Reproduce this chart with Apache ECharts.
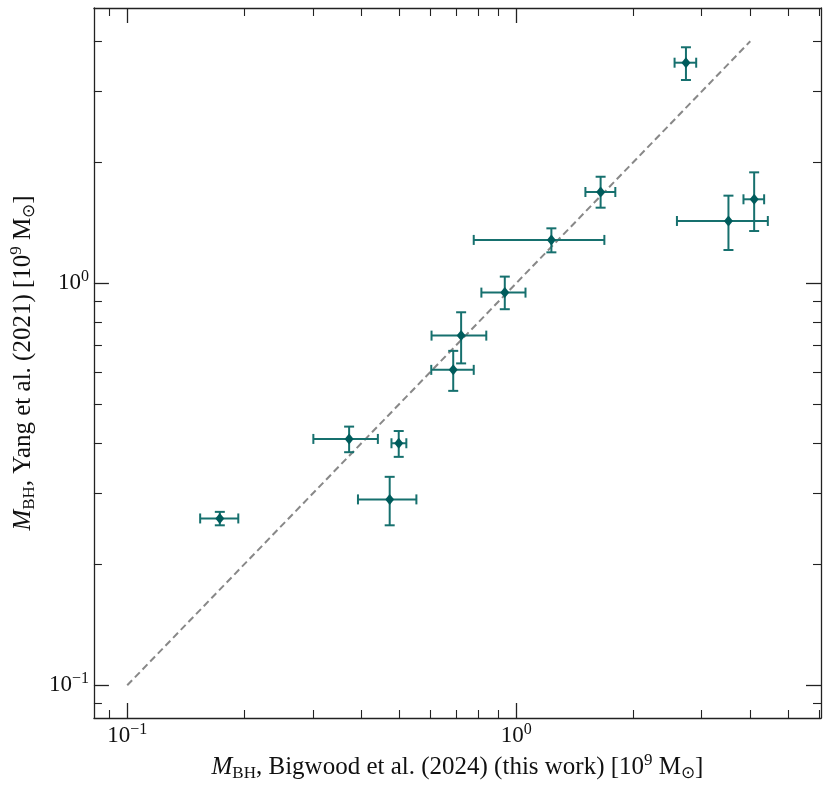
<!DOCTYPE html>
<html>
<head>
    <meta charset="utf-8">
    <title>M_BH comparison</title>
    <script src="https://cdn.jsdelivr.net/npm/echarts@6.0.0/dist/echarts.min.js"></script>
    <style>
        html, body { margin: 0; padding: 0; background: #fff; }
    </style>
</head>
<body>
    <div id="main" style="width: 831px;height:788px;"></div>
    <script type="text/javascript">
        // values, in 10^9 Msun
        var xVal = [0.173, 0.372, 0.499, 0.473, 0.689, 0.722, 0.935, 1.232, 1.649, 2.733, 3.515, 4.093];
        var xLo  = [0.154, 0.301, 0.478, 0.392, 0.605, 0.606, 0.814, 0.778, 1.507, 2.555, 2.591, 3.842];
        var xHi  = [0.193, 0.441, 0.522, 0.554, 0.778, 0.838, 1.057, 1.686, 1.799, 2.904, 4.438, 4.342];
        var yVal = [0.260, 0.410, 0.400, 0.290, 0.609, 0.741, 0.948, 1.282, 1.687, 3.538, 1.429, 1.618];
        var yLo  = [0.250, 0.380, 0.370, 0.250, 0.540, 0.632, 0.862, 1.194, 1.542, 3.204, 1.210, 1.349];
        var yHi  = [0.270, 0.440, 0.429, 0.330, 0.679, 0.847, 1.039, 1.370, 1.841, 3.865, 1.652, 1.888];

        var oneToOne = [[0.1, 0.1], [4, 4]];

        var xMajor = [0.1, 1];
        var xMinor = [0.09, 0.2, 0.3, 0.4, 0.5, 0.6, 0.7, 0.8, 0.9, 2, 3, 4, 5, 6];
        var yMajor = [0.1, 1];
        var yMinor = [0.09, 0.2, 0.3, 0.4, 0.5, 0.6, 0.7, 0.8, 0.9, 2, 3, 4];

        var xMin = 0.0821, xMax = 6.08;
        var yMin = 0.0829, yMax = 4.84;

        var font = 'Liberation Serif';
        var teal = '#005c5c';
        var barColor = '#16706e';

        function powLabel(v) {
            var e = Math.round(Math.log10(v));
            return '{b|10}{s|' + (e < 0 ? '\u2212' + (-e) : e) + '}';
        }

        var labelRich = {
            b: { fontFamily: font, fontSize: 23, color: '#111', lineHeight: 28 },
            s: { fontFamily: font, fontSize: 16, color: '#111', verticalAlign: 'top', lineHeight: 28, padding: [0, 0, 8, 0] }
        };
        var nameRich = {
            m: { fontFamily: font, fontSize: 25, fontStyle: 'italic', color: '#111', lineHeight: 30 },
            t: { fontFamily: font, fontSize: 25, color: '#111', lineHeight: 30 },
            sub: { fontFamily: font, fontSize: 17, color: '#111', verticalAlign: 'bottom', lineHeight: 30, padding: [6, 0, 0, 0] },
            sup: { fontFamily: font, fontSize: 17, color: '#111', verticalAlign: 'top', lineHeight: 30, padding: [0, 0, 8, 0] }
        };

        function axisPair(dim, pos, min, max, major, minor, withLabel, name, gap) {
            var line = { show: true, lineStyle: { color: '#222', width: 1.3 } };
            var a = {
                type: 'log', position: pos, min: min, max: max,
                axisLine: line,
                axisTick: { show: true, inside: true, length: 15, customValues: major, lineStyle: { color: '#222', width: 1.3 } },
                axisLabel: withLabel ? {
                    show: true, customValues: major, margin: dim === 'x' ? 4 : 5,
                    formatter: powLabel, rich: labelRich
                } : { show: false },
                splitLine: { show: false }
            };
            if (name) {
                a.name = name;
                a.nameLocation = 'middle';
                a.nameGap = gap;
                a.nameTextStyle = { rich: nameRich };
                if (dim === 'y') a.nameRotate = 90;
            }
            var b = {
                type: 'log', position: pos, min: min, max: max,
                axisLine: { show: false },
                axisTick: { show: true, inside: true, length: 8, customValues: minor, lineStyle: { color: '#222', width: 1.1 } },
                axisLabel: { show: false },
                splitLine: { show: false }
            };
            return [a, b];
        }

        var xName = '{m|M}{sub|BH}{t|, Bigwood et al. (2024) (this work) [10}{sup|9}{t| M}{sub|\u2299}{t|]}';
        var yName = '{m|M}{sub|BH}{t|, Yang et al. (2021) [10}{sup|9}{t| M}{sub|\u2299}{t|]}';

        var xAxes = axisPair('x', 'bottom', xMin, xMax, xMajor, xMinor, true, xName, 34)
            .concat(axisPair('x', 'top', xMin, xMax, xMajor, xMinor, false));
        var yAxes = axisPair('y', 'left', yMin, yMax, yMajor, yMinor, true, yName, 48)
            .concat(axisPair('y', 'right', yMin, yMax, yMajor, yMinor, false));

        var points = xVal.map(function (x, i) { return [x, yVal[i]]; });
        var bars = xVal.map(function (x, i) { return [x, yVal[i], xLo[i], xHi[i], yLo[i], yHi[i]]; });

        var cap = 5;
        function renderBar(params, api) {
            var c = api.coord([api.value(0), api.value(1)]);
            var l = api.coord([api.value(2), api.value(1)]);
            var r = api.coord([api.value(3), api.value(1)]);
            var lo = api.coord([api.value(0), api.value(4)]);
            var hi = api.coord([api.value(0), api.value(5)]);
            var st = { stroke: barColor, lineWidth: 2 };
            return {
                type: 'group',
                children: [
                    { type: 'line', shape: { x1: l[0], y1: c[1], x2: r[0], y2: c[1] }, style: st },
                    { type: 'line', shape: { x1: c[0], y1: lo[1], x2: c[0], y2: hi[1] }, style: st },
                    { type: 'line', shape: { x1: l[0], y1: c[1] - cap, x2: l[0], y2: c[1] + cap }, style: st },
                    { type: 'line', shape: { x1: r[0], y1: c[1] - cap, x2: r[0], y2: c[1] + cap }, style: st },
                    { type: 'line', shape: { x1: c[0] - cap, y1: lo[1], x2: c[0] + cap, y2: lo[1] }, style: st },
                    { type: 'line', shape: { x1: c[0] - cap, y1: hi[1], x2: c[0] + cap, y2: hi[1] }, style: st }
                ]
            };
        }

        var myChart = echarts.init(document.getElementById('main'));
        myChart.setOption({
            backgroundColor: '#fff',
            animation: false,
            grid: { left: 93, right: 10, top: 8, bottom: 70 },
            xAxis: xAxes,
            yAxis: yAxes,
            series: [{
                type: 'line',
                data: oneToOne,
                xAxisIndex: 0, yAxisIndex: 0,
                symbol: 'none',
                lineStyle: { color: '#888', width: 2, type: [7, 4] },
                z: 1
            }, {
                type: 'custom',
                data: bars,
                xAxisIndex: 0, yAxisIndex: 0,
                encode: { x: 0, y: 1 },
                renderItem: renderBar,
                z: 2
            }, {
                type: 'scatter',
                data: points,
                xAxisIndex: 0, yAxisIndex: 0,
                symbol: 'diamond',
                symbolSize: [9, 11],
                itemStyle: { color: teal, opacity: 1 },
                z: 3
            }]
        });
    </script>
</body>
</html>
